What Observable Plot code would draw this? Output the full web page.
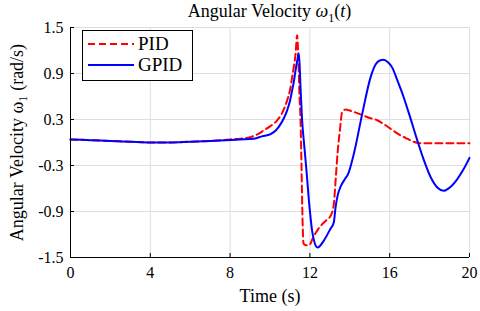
<!DOCTYPE html>
<html><head><meta charset="utf-8">
<script src="https://cdn.jsdelivr.net/npm/d3@7"></script>
<script src="https://cdn.jsdelivr.net/npm/@observablehq/plot@0.6"></script>
<style>
body{margin:0;background:#fff;font-family:"Liberation Serif",serif;}
#wrap{position:relative;width:480px;height:311px;}
#title{height:22px;line-height:22px;font-size:18px;text-align:center;padding-left:59px;width:421px;color:#000;}
#chart svg{overflow:visible;}
#chart svg text{font-family:"Liberation Serif",serif !important;}
#legend{position:absolute;left:82px;top:30px;width:109px;height:49px;border:1px solid #000;background:#fff;font-size:19px;}
#legend svg{position:absolute;left:0;top:0;}
#legend span{position:absolute;left:55px;line-height:20px;}
</style></head>
<body>
<div id="wrap">
<div id="title">Angular Velocity <i>ω</i><sub style="font-size:12px">1</sub>(<i>t</i>)</div>
<div id="chart"></div>
<div id="legend">
<svg width="110" height="50"><line x1="5" x2="51" y1="13" y2="13" stroke="#ff0000" stroke-width="2" stroke-dasharray="7,4"/><line x1="5" x2="51" y1="34" y2="34" stroke="#0000ff" stroke-width="2"/></svg>
<span id="l1" style="top:3px">PID</span><span id="l2" style="top:24px">GPID</span>
</div>
</div>
<script>
const seriesNames = ["PID", "GPID"];
const xTicks = [0, 4, 8, 12, 16, 20];
const yTicks = [-1.5, -0.9, -0.3, 0.3, 0.9, 1.5];
const tPID = [0,1,2,3,4,5,6,7,8,8.5,9,9.4,9.7,10,10.36,10.6,10.86,11.0,11.11,11.2,11.28,11.36,11.42,11.48,11.53,11.58,11.63,11.68,11.8,11.95,12.2,12.5,12.8,13.05,13.2,13.3,13.4,13.5,13.62,13.8,13.95,14.3,14.7,15.0,15.37,15.7,16.04,16.5,16.87,17.2,17.54,18,19,20];
const vPID = [0.04,0.03,0.02,0.01,0.0,0.0,0.01,0.02,0.04,0.05,0.07,0.11,0.16,0.21,0.29,0.38,0.55,0.68,0.85,1.0,1.15,1.40,1.1,0.6,0.29,-0.32,-1.0,-1.32,-1.34,-1.34,-1.22,-1.1,-1.02,-0.95,-0.80,-0.45,-0.1,0.15,0.40,0.43,0.42,0.39,0.35,0.32,0.29,0.24,0.18,0.10,0.05,0.01,-0.01,-0.01,-0.01,-0.01];
const tGPID = [0,1,2,3,4,5,6,7,7.8,8.5,9.19,9.6,10.03,10.3,10.53,10.7,10.86,11.0,11.11,11.2,11.28,11.36,11.45,11.53,11.61,11.72,11.83,11.95,12.03,12.11,12.2,12.3,12.4,12.5,12.7,13.0,13.2,13.28,13.4,13.55,13.75,13.9,14.2,14.62,15.04,15.3,15.5,15.7,15.9,16.12,16.4,16.7,17.0,17.38,17.7,18.05,18.4,18.71,19.0,19.38,19.7,20];
const vGPID = [0.04,0.03,0.02,0.01,0.0,0.0,0.01,0.02,0.03,0.04,0.05,0.08,0.11,0.16,0.24,0.32,0.42,0.54,0.68,0.8,0.94,1.06,1.16,0.72,0.29,-0.05,-0.37,-0.76,-0.97,-1.15,-1.27,-1.35,-1.37,-1.35,-1.28,-1.14,-1.04,-0.86,-0.68,-0.57,-0.48,-0.42,-0.15,0.37,0.85,1.02,1.07,1.08,1.05,0.98,0.80,0.59,0.35,0.03,-0.22,-0.45,-0.59,-0.63,-0.59,-0.48,-0.35,-0.2];

const pid = tPID.map((t, i) => ({t, v: vPID[i], s: seriesNames[0]}));
const gpid = tGPID.map((t, i) => ({t, v: vGPID[i], s: seriesNames[1]}));
const fmtY = d => d.toFixed(1);
const gridColor = "#dedede";

const chart = Plot.plot({
  width: 480, height: 289,
  marginTop: 5, marginBottom: 54, marginLeft: 70, marginRight: 11,
  style: {fontFamily: "'Liberation Serif', serif", fontSize: "16px", color: "#000", background: "#fff", overflow: "visible"},
  x: {domain: [xTicks[0], xTicks[xTicks.length - 1]]},
  y: {domain: [yTicks[0], yTicks[yTicks.length - 1]]},
  marks: [
    Plot.gridX(xTicks, {stroke: gridColor, strokeOpacity: 1}),
    Plot.gridY(yTicks, {stroke: gridColor, strokeOpacity: 1}),
    Plot.line(pid, {x: "t", y: "v", stroke: "#ff0000", strokeWidth: 2, strokeDasharray: "7,4", curve: "monotone-x"}),
    Plot.line(gpid, {x: "t", y: "v", stroke: "#0000ff", strokeWidth: 2, curve: "monotone-x"}),
    Plot.ruleX([xTicks[0]], {stroke: "#000", strokeWidth: 1}),
    Plot.ruleY([yTicks[0]], {stroke: "#000", strokeWidth: 1}),
    Plot.axisX(xTicks, {tickSize: 4, dy: -4, tickFormat: () => "", label: null, stroke: "#000"}),
    Plot.axisX(xTicks, {tickSize: 0, tickPadding: 9, tickFormat: d => String(d), label: "Time (s)", labelAnchor: "center", labelArrow: "none", labelOffset: 44, fontSize: 16}),
    Plot.axisY(yTicks, {tickSize: 4, dx: 4, tickFormat: () => "", label: null, stroke: "#000"}),
    Plot.axisY(yTicks, {tickSize: 0, tickPadding: 7, tickFormat: fmtY, label: "Angular Velocity ω₁ (rad/s)", labelAnchor: "center", labelArrow: "none", labelOffset: 60, fontSize: 16})
  ]
});
document.getElementById("chart").appendChild(chart);
d3.select(chart).selectAll("text").style("font-family", "'Liberation Serif', serif");
d3.select(chart).selectAll("[aria-label='x-axis label'] text, [aria-label='y-axis label'] text").style("font-size", "18px");
</script>
</body></html>
